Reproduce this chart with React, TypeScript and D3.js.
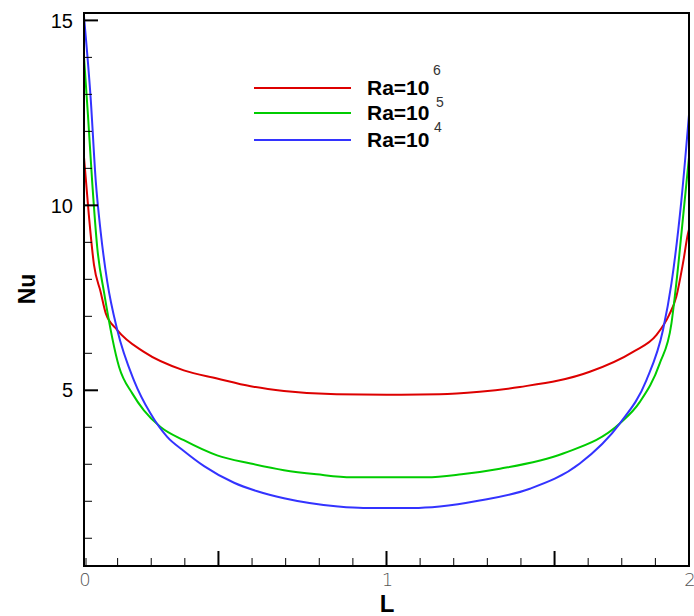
import React from "react";
import * as d3 from "d3";

// Ra = 10^6
const ra6L = [0, 0.016, 0.033, 0.055, 0.072, 0.11, 0.198, 0.33, 0.44, 0.551, 0.661, 0.835, 1.0, 1.176, 1.308, 1.441, 1.672, 1.815, 1.892, 1.934, 1.958, 1.98, 1.997, 2.0];
const ra6Nu = [11.3, 9.74, 8.39, 7.66, 7.08, 6.63, 6.04, 5.54, 5.32, 5.11, 4.98, 4.89, 4.88, 4.89, 4.96, 5.09, 5.5, 6.04, 6.49, 7.03, 7.53, 8.43, 9.25, 9.35];
// Ra = 10^5
const ra5L = [0, 0.013, 0.027, 0.044, 0.066, 0.116, 0.16, 0.198, 0.253, 0.33, 0.44, 0.551, 0.661, 0.769, 0.885, 1.132, 1.248, 1.375, 1.584, 1.771, 1.837, 1.903, 1.942, 1.958, 1.986, 2.0];
const ra5Nu = [14.0, 12.45, 10.64, 8.84, 7.66, 5.63, 4.91, 4.46, 4.01, 3.65, 3.24, 3.02, 2.84, 2.73, 2.65, 2.65, 2.73, 2.88, 3.29, 4.1, 4.68, 5.72, 6.81, 7.89, 10.15, 11.3];
// Ra = 10^4
const ra4L = [0, 0.022, 0.039, 0.055, 0.077, 0.11, 0.165, 0.22, 0.275, 0.33, 0.397, 0.496, 0.573, 0.661, 0.84, 0.923, 1.088, 1.176, 1.308, 1.474, 1.639, 1.771, 1.859, 1.914, 1.942, 1.975, 2.0];
const ra4Nu = [15.1, 12.9, 10.64, 9.29, 7.93, 6.63, 5.27, 4.37, 3.74, 3.36, 2.95, 2.5, 2.27, 2.08, 1.86, 1.82, 1.82, 1.86, 2.02, 2.34, 3.02, 4.1, 5.27, 6.63, 7.89, 10.15, 12.45];

const seriesNames = ["Ra=10", "Ra=10", "Ra=10"];
const seriesExponents = ["6", "5", "4"];
const seriesColors = ["#dd0000", "#00cc00", "#3333ff"];

const yMajorTicks = [5, 10, 15];
const yMinorTicks = [1, 2, 3, 4, 6, 7, 8, 9, 11, 12, 13, 14];
const xTickLabels = [0, 1, 2];
const xMajorTicks = [4 / 9, 1, 14 / 9];
const xMinorTicks = [0, 1 / 9, 2 / 9, 3 / 9, 5 / 9, 6 / 9, 7 / 9, 8 / 9, 10 / 9, 11 / 9, 12 / 9, 13 / 9, 15 / 9, 16 / 9, 17 / 9];

const W = 694;
const H = 616;
const left = 84;
const right = 689;
const top = 13;
const bottom = 566;

export default function App() {
  const x = d3.scaleLinear().domain([0, 2]).range([left, right]);
  const y = d3.scaleLinear().domain([0.25, 15.2]).range([bottom, top]);

  const series = [
    { L: ra6L, Nu: ra6Nu },
    { L: ra5L, Nu: ra5Nu },
    { L: ra4L, Nu: ra4Nu },
  ];

  const line = d3
    .line<[number, number]>()
    .x((d) => x(d[0]))
    .y((d) => y(d[1]))
    .curve(d3.curveMonotoneX);

  const font = "'Liberation Sans', Arial, sans-serif";

  return (
    <svg
      width={W}
      height={H}
      style={{ position: "absolute", left: 0, top: 0, background: "#fff" }}
      fontFamily={font}
    >
      <defs>
        <clipPath id="plot">
          <rect x={left} y={top} width={right - left} height={bottom - top} />
        </clipPath>
      </defs>

      {/* curves */}
      <g clipPath="url(#plot)">
        {series.map((s, i) => (
          <path
            key={i}
            d={line(s.L.map((l, j) => [l, s.Nu[j]] as [number, number])) || ""}
            fill="none"
            stroke={seriesColors[i]}
            strokeWidth={2}
            strokeLinejoin="round"
          />
        ))}
      </g>

      {/* frame */}
      <rect
        x={left}
        y={top}
        width={right - left}
        height={bottom - top}
        fill="none"
        stroke="#000"
        strokeWidth={2}
      />

      {/* y ticks */}
      {yMajorTicks.map((t) => (
        <g key={"ym" + t}>
          <line x1={left} x2={left + 14} y1={y(t)} y2={y(t)} stroke="#000" strokeWidth={2} />
          <text x={73} y={y(t)} dy="0.36em" textAnchor="end" fontSize={20} fill="#000">
            {t}
          </text>
        </g>
      ))}
      {yMinorTicks.map((t) => (
        <line key={"yn" + t} x1={left} x2={left + 8} y1={y(t)} y2={y(t)} stroke="#000" strokeWidth={1} />
      ))}

      {/* x ticks */}
      {xMajorTicks.map((t, i) => (
        <line key={"xm" + i} x1={x(t)} x2={x(t)} y1={bottom} y2={bottom - 15} stroke="#000" strokeWidth={2} />
      ))}
      {xMinorTicks.map((t, i) => (
        <line key={"xn" + i} x1={x(t) + (i === 0 ? 2 : 0)} x2={x(t) + (i === 0 ? 2 : 0)} y1={bottom} y2={bottom - 8} stroke="#000" strokeWidth={1} />
      ))}
      {xTickLabels.map((t) => (
        <text key={"xl" + t} x={x(t) + 1} y={586} textAnchor="middle" fontSize={18} fill="#555" fontFamily="'DejaVu Sans', sans-serif" fontWeight={200}>
          {t}
        </text>
      ))}

      {/* axis titles */}
      <text x={387} y={612} textAnchor="middle" fontSize={24} fontWeight="bold" fill="#000">
        L
      </text>
      <text
        transform="translate(35,289) rotate(-90)"
        textAnchor="middle"
        fontSize={23}
        fontWeight="bold"
        fill="#000"
      >
        Nu
      </text>

      {/* legend */}
      {seriesNames.map((name, i) => {
        const ly = [88, 113, 140][i];
        const by = [95, 119.5, 146.5][i];
        const sy = [75, 106.5, 131.5][i];
        return (
          <g key={"lg" + i}>
            <line x1={254} x2={351} y1={ly} y2={ly} stroke={seriesColors[i]} strokeWidth={2} />
            <text x={367} y={by} fontSize={21} fontWeight="bold" fill="#000">
              {name}
            </text>
            <text x={433 + [0, 3, 1][i]} y={sy} fontSize={14} fill="#333">
              {seriesExponents[i]}
            </text>
          </g>
        );
      })}
    </svg>
  );
}
